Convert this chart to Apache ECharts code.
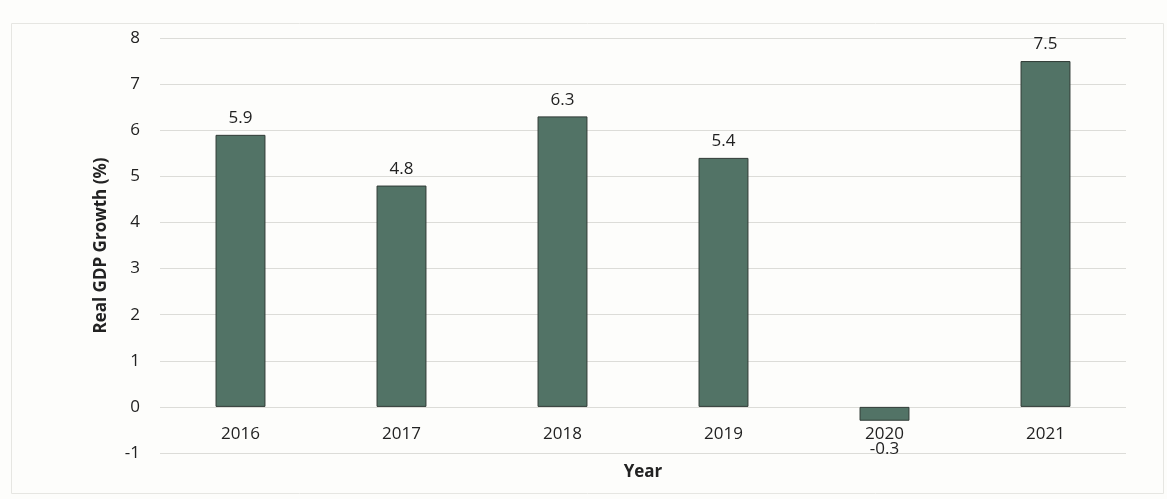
<!DOCTYPE html>
<html>
<head>
<meta charset="utf-8">
<script src="https://cdn.jsdelivr.net/npm/echarts@6/dist/echarts.min.js"></script>
<style>
  html, body { margin: 0; padding: 0; background: #fdfdfb; }
  #main { width: 1167px; height: 499px; }
</style>
</head>
<body>
<div id="main"></div>
<script>
// data
const years = ['2016', '2017', '2018', '2019', '2020', '2021'];
const growth = [5.9, 4.8, 6.3, 5.4, -0.3, 7.5];

const font = 'Open Sans, Noto Sans, sans-serif';

var myChart = echarts.init(document.getElementById('main'));

const option = {
  backgroundColor: '#fdfdfb',
  // faint frame round the chart area, as in the scan
  graphic: [{
    type: 'rect',
    left: 9, top: 21,
    shape: { width: 1152, height: 470 },
    style: { fill: 'none', stroke: '#e6e6e2', lineWidth: 1 },
    silent: true
  }],
  grid: { left: 160, right: 41, top: 38, bottom: 46, outerBoundsMode: 'none' },
  xAxis: {
    type: 'category',
    data: years,
    // category labels sit on the zero line
    offset: -47,
    name: 'Year',
    nameLocation: 'middle',
    nameGap: 58,
    nameTextStyle: { fontFamily: font, fontSize: 17, fontWeight: 'bold', color: '#222' },
    axisLine: { show: false, onZero: false },
    axisTick: { show: false },
    axisLabel: { fontFamily: font, fontSize: 17, color: '#222', margin: 20 }
  },
  yAxis: {
    type: 'value',
    min: -1,
    max: 8,
    interval: 1,
    name: 'Real GDP Growth (%)',
    nameLocation: 'middle',
    nameGap: 50,
    nameTextStyle: { fontFamily: font, fontSize: 17, fontWeight: 'bold', color: '#222' },
    axisLine: { show: false },
    axisTick: { show: false },
    axisLabel: { fontFamily: font, fontSize: 17, color: '#222', margin: 20 },
    splitLine: { lineStyle: { color: '#dcdcd8', width: 1 } }
  },
  series: [{
    type: 'bar',
    barWidth: '31%',
    data: growth.map(v => ({
      value: v,
      label: v < 0 ? { position: 'bottom', distance: 20 } : { position: 'top', distance: 8 }
    })),
    itemStyle: { color: '#527366', borderColor: '#2f3a35', borderWidth: 1 },
    label: { show: true, fontFamily: font, fontSize: 17, color: '#222' }
  }]
};

myChart.setOption(option);
</script>
</body>
</html>
